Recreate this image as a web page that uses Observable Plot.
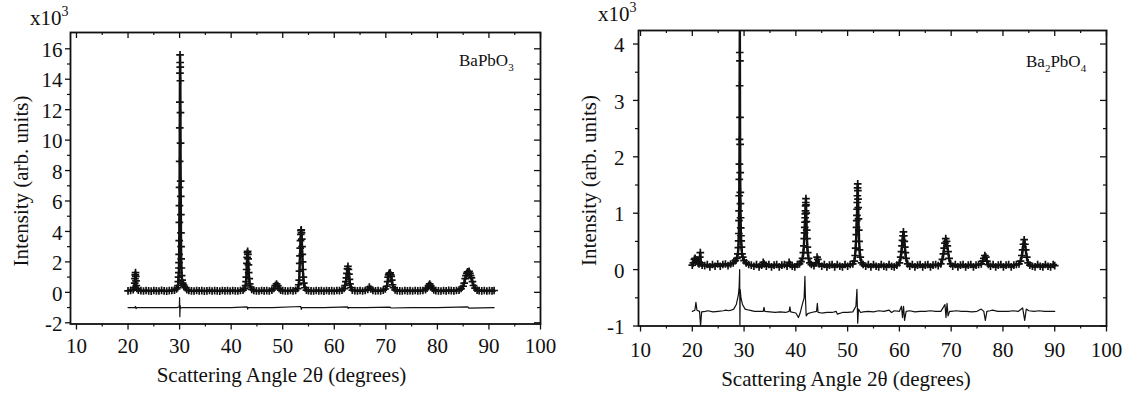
<!DOCTYPE html>
<html>
<head>
<meta charset="utf-8">
<script src="https://cdn.jsdelivr.net/npm/d3@7"></script>
<script src="https://cdn.jsdelivr.net/npm/@observablehq/plot@0.6"></script>
<style>
  html, body { margin: 0; padding: 0; background: #fff; }
  #wrap { position: relative; width: 1127px; height: 394px; background: #fff; overflow: hidden; }
  .panel { position: absolute; top: 0; }
  #overlay { position: absolute; left: 0; top: 0; pointer-events: none; }
</style>
</head>
<body>
<div id="wrap">
  <div id="p1" class="panel" style="left:0px"></div>
  <div id="p2" class="panel" style="left:560px"></div>
</div>
<script>
// ---------- DATA ----------
// Panel A: BaPbO3 observed intensities (x10^3) vs 2θ
const obsA = [
  [20.0,.10],[20.5,.13],[21.0,.18],[21.2,.3],[21.3,.6],[21.35,.9],[21.4,1.15],[21.45,1.3],[21.5,1.05],[21.55,.75],[21.6,.45],[21.7,.25],
  [22.0,.14],[22.5,.11],[23.0,.09],[23.5,.12],[24.0,.10],[24.5,.08],[25.0,.12],[25.5,.10],[26.0,.09],[26.5,.13],[27.0,.10],[27.5,.08],
  [28.0,.11],[28.5,.12],[29.0,.15],[29.4,.22],[29.6,.3],[29.7,.45],[29.75,.7],[29.8,1.0],[29.85,1.3],[29.87,1.6],[29.89,1.95],[29.91,2.5],
  [29.93,3.4],[29.95,4.6],[29.97,5.7],[29.99,6.9],[30.01,8.6],[30.03,10.8],[30.05,12.5],[30.07,14.4],[30.09,15.6],[30.11,15.1],[30.13,14.8],
  [30.15,13.9],[30.17,11.8],[30.19,9.8],[30.21,7.3],[30.23,6.3],[30.25,5.1],[30.27,3.9],[30.29,3.0],[30.31,2.2],[30.35,1.6],[30.4,1.1],
  [30.5,.8],[30.6,.6],[30.75,.5],[30.9,.4],[31.1,.3],[31.4,.18],[31.8,.12],[32.3,.10],[32.8,.09],[33.3,.12],[33.8,.10],[34.3,.11],
  [34.8,.08],[35.3,.10],[35.8,.12],[36.3,.09],[36.8,.11],[37.3,.10],[37.8,.08],[38.3,.12],[38.8,.10],[39.3,.11],[39.8,.09],[40.3,.12],
  [40.8,.10],[41.3,.09],[41.8,.12],[42.3,.15],[42.6,.25],[42.8,.45],[42.9,.7],[42.95,1.0],[43.0,1.5],[43.05,1.9],[43.1,2.3],[43.15,2.6],
  [43.2,2.7],[43.25,2.5],[43.3,2.2],[43.35,1.8],[43.4,1.3],[43.5,.9],[43.6,.55],[43.75,.35],[44.0,.2],[44.4,.12],[44.9,.10],[45.4,.09],
  [45.9,.12],[46.4,.10],[46.9,.11],[47.4,.09],[47.9,.14],[48.3,.25],[48.55,.45],[48.8,.55],[49.05,.45],[49.3,.25],[49.6,.14],[50.0,.11],
  [50.5,.10],[51.0,.09],[51.5,.12],[52.0,.10],[52.5,.13],[52.9,.25],[53.1,.5],[53.2,.8],[53.25,1.4],[53.3,1.9],[53.35,2.4],[53.4,2.9],
  [53.45,3.4],[53.5,3.8],[53.55,4.05],[53.6,4.1],[53.65,3.9],[53.7,3.5],[53.75,3.0],[53.8,2.5],[53.85,2.0],[53.9,1.5],[54.0,1.0],[54.1,.6],
  [54.3,.3],[54.6,.15],[55.0,.11],[55.5,.10],[56.0,.09],[56.5,.12],[57.0,.10],[57.5,.11],[58.0,.08],[58.5,.12],[59.0,.10],[59.5,.11],
  [60.0,.09],[60.5,.12],[61.0,.11],[61.5,.15],[61.9,.25],[62.1,.45],[62.25,.7],[62.35,.95],[62.45,1.25],[62.55,1.55],[62.65,1.7],[62.75,1.5],
  [62.85,1.2],[62.95,.85],[63.05,.55],[63.25,.3],[63.5,.15],[64.0,.11],[64.5,.10],[65.0,.12],[65.5,.09],[66.0,.12],[66.5,.2],[66.8,.35],
  [67.1,.22],[67.5,.12],[68.0,.10],[68.5,.11],[69.0,.09],[69.5,.14],[69.9,.22],[70.2,.4],[70.35,.7],[70.45,1.0],[70.55,1.15],[70.65,1.25],
  [70.75,1.2],[70.85,1.28],[70.95,1.15],[71.05,1.05],[71.15,.8],[71.3,.5],[71.5,.3],[71.8,.16],[72.2,.11],[72.7,.10],[73.2,.09],[73.7,.12],
  [74.2,.10],[74.7,.11],[75.2,.09],[75.7,.12],[76.2,.10],[76.7,.11],[77.2,.12],[77.7,.18],[78.0,.28],[78.3,.45],[78.5,.55],[78.7,.45],
  [79.0,.28],[79.3,.16],[79.7,.11],[80.2,.10],[80.7,.09],[81.2,.12],[81.7,.10],[82.2,.13],[82.7,.11],[83.2,.10],[83.7,.12],[84.2,.15],
  [84.6,.25],[85.0,.4],[85.2,.6],[85.4,.9],[85.55,1.1],[85.7,1.25],[85.85,1.35],[86.0,1.3],[86.15,1.38],[86.3,1.25],[86.45,1.1],[86.6,.95],
  [86.8,.7],[87.0,.45],[87.3,.28],[87.7,.15],[88.1,.11],[88.6,.10],[89.1,.12],[89.6,.09],[90.1,.11],[90.6,.10],[91.0,.12]
];
// Panel A: difference curve
const diffA = [
  [20,-1.0],[21.3,-1.0],[21.45,-0.93],[21.55,-1.07],[21.7,-1.0],[25,-1.01],[29.5,-1.0],[29.95,-0.95],[30.0,-0.35],[30.05,-1.6],
  [30.1,-0.85],[30.2,-1.05],[30.5,-1.0],[35,-1.0],[40,-1.01],[43.1,-0.95],[43.2,-1.1],[43.3,-1.0],[48,-1.0],[53.5,-0.93],
  [53.6,-1.12],[53.7,-1.0],[58,-1.0],[62.6,-0.96],[62.7,-1.06],[62.8,-1.0],[66,-1.0],[70.8,-0.97],[71.0,-1.03],[75,-1.0],
  [80,-1.0],[85.9,-0.96],[86.1,-1.04],[91,-1.0]
];
// Panel B: Ba2PbO4 observed intensities (x10^3)
const obsB = [
  [20.0,.08],[20.2,.12],[20.4,.18],[20.55,.2],[20.7,.15],[20.9,.17],[21.1,.12],[21.3,.1],[21.45,.22],[21.55,.3],[21.65,.12],[21.9,.08],
  [22.4,.07],[22.9,.09],[23.4,.05],[23.9,.09],[24.4,.06],[24.9,.10],[25.4,.06],[25.9,.09],[26.4,.10],[26.9,.07],[27.4,.1],[27.9,.12],
  [28.3,.16],[28.6,.2],[28.8,.28],[28.9,.39],[28.95,.51],[29.0,.64],[29.02,.87],[29.04,1.04],[29.06,1.31],[29.08,1.6],[29.1,1.87],
  [29.12,2.31],[29.14,3.26],[29.16,3.85],[29.18,4.4],[29.2,3.7],[29.22,2.7],[29.24,2.22],[29.26,1.72],[29.28,1.37],[29.3,1.17],
  [29.33,.92],[29.36,.74],[29.4,.6],[29.45,.51],[29.5,.4],[29.6,.28],[29.75,.22],[30.0,.16],[30.4,.12],[30.9,.09],[31.4,.08],[31.9,.06],
  [32.4,.09],[32.9,.05],[33.4,.08],[33.7,.13],[33.9,.1],[34.3,.06],[34.8,.09],[35.3,.05],[35.8,.08],[36.3,.09],[36.8,.05],[37.3,.08],
  [37.8,.09],[38.3,.06],[38.7,.13],[38.9,.09],[39.3,.06],[39.8,.05],[40.3,.09],[40.7,.1],[41.0,.14],[41.3,.2],[41.45,.3],[41.55,.42],
  [41.62,.55],[41.68,.65],[41.72,.75],[41.76,.84],[41.8,.92],[41.83,.99],[41.86,1.04],[41.89,1.13],[41.92,1.19],[41.95,1.26],[41.98,1.15],
  [42.01,1.0],[42.05,.85],[42.1,.7],[42.15,.55],[42.22,.4],[42.3,.3],[42.45,.2],[42.7,.12],[43.0,.09],[43.5,.07],[43.9,.12],[44.1,.22],
  [44.25,.18],[44.5,.1],[45.0,.06],[45.5,.09],[46.0,.05],[46.5,.08],[47.0,.09],[47.5,.05],[48.0,.09],[48.5,.06],[49.0,.05],[49.5,.09],
  [50.0,.06],[50.5,.09],[51.0,.1],[51.3,.15],[51.45,.25],[51.55,.38],[51.62,.5],[51.68,.62],[51.72,.75],[51.76,.87],[51.8,.96],[51.83,1.07],
  [51.86,1.19],[51.89,1.31],[51.92,1.45],[51.95,1.52],[51.98,1.4],[52.01,1.25],[52.05,1.1],[52.1,.9],[52.15,.7],[52.22,.5],[52.3,.35],
  [52.45,.22],[52.7,.12],[53.0,.09],[53.5,.06],[54.0,.09],[54.5,.05],[55.0,.09],[55.5,.06],[56.0,.05],[56.5,.09],[57.0,.06],[57.5,.05],
  [58.0,.09],[58.5,.06],[59.0,.05],[59.5,.08],[60.0,.12],[60.25,.22],[60.4,.32],[60.5,.42],[60.6,.52],[60.7,.6],[60.78,.67],[60.86,.6],
  [60.95,.5],[61.05,.4],[61.15,.3],[61.3,.2],[61.6,.1],[62.0,.06],[62.5,.09],[63.0,.05],[63.5,.08],[64.0,.09],[64.5,.05],[65.0,.08],
  [65.5,.09],[66.0,.05],[66.5,.08],[67.0,.09],[67.5,.07],[68.0,.1],[68.3,.18],[68.5,.28],[68.65,.38],[68.8,.47],[68.95,.55],[69.1,.5],
  [69.25,.42],[69.4,.32],[69.6,.2],[69.9,.1],[70.3,.06],[70.8,.09],[71.3,.05],[71.8,.08],[72.3,.09],[72.8,.05],[73.3,.08],[73.8,.09],
  [74.3,.05],[74.8,.08],[75.3,.09],[75.8,.1],[76.1,.15],[76.3,.2],[76.5,.25],[76.7,.22],[76.9,.15],[77.2,.09],[77.6,.06],[78.1,.09],
  [78.6,.05],[79.1,.08],[79.6,.09],[80.1,.05],[80.6,.08],[81.1,.09],[81.6,.05],[82.1,.08],[82.6,.09],[83.1,.1],[83.4,.15],[83.65,.25],
  [83.8,.35],[83.95,.45],[84.1,.53],[84.25,.45],[84.4,.35],[84.6,.22],[84.85,.12],[85.2,.08],[85.7,.06],[86.2,.05],[86.7,.09],[87.2,.06],
  [87.7,.05],[88.2,.09],[88.7,.06],[89.2,.05],[89.7,.09],[90.0,.07]
];
// Panel B: difference curve
const diffB = [
  [20,-.74],[20.5,-.72],[20.7,-.58],[20.9,-.72],[21.4,-.74],[21.6,-1.0],[21.8,-.75],[22.5,-.74],[23,-.73],[24,-.75],[25,-.74],[26,-.73],
  [26.5,-.72],[27,-.73],[27.5,-.72],[28,-.70],[28.5,-.62],[28.9,-.45],[29.05,-.3],[29.15,0.0],[29.2,-1.0],[29.25,-.35],[29.4,-.5],
  [29.7,-.62],[30.2,-.7],[31,-.72],[32,-.74],[33,-.74],[33.7,-.74],[33.85,-.67],[34,-.74],[35,-.75],[36,-.76],[37,-.75],[38,-.76],
  [38.7,-.74],[38.85,-.66],[39.0,-.75],[40,-.77],[40.5,-.85],[40.8,-.78],[41.3,-.6],[41.6,-.5],[41.75,-.12],[41.85,-.5],[42.0,-.82],
  [42.3,-.78],[43,-.76],[44,-.74],[44.15,-.6],[44.3,-.76],[45,-.77],[46,-.76],[47,-.76],[47.8,-.74],[48,-.79],[49,-.76],[50,-.76],
  [51,-.75],[51.6,-.65],[51.8,-.35],[51.95,-.95],[52.1,-.7],[52.5,-.76],[53,-.75],[54,-.74],[55,-.75],[56,-.73],[57,-.74],[58,-.72],
  [58.5,-.76],[59,-.73],[60,-.74],[60.4,-.65],[60.6,-.85],[60.8,-.65],[61.0,-.9],[61.3,-.74],[62,-.73],[63,-.75],[64,-.74],[65,-.74],
  [66,-.73],[67,-.74],[68,-.74],[68.8,-.62],[69.0,-.85],[69.2,-.6],[69.4,-.82],[69.7,-.74],[70,-.74],[71,-.73],[72,-.74],[73,-.74],
  [74,-.75],[75,-.74],[75.8,-.70],[76.3,-.74],[76.6,-.9],[76.9,-.74],[77.5,-.73],[78,-.72],[79,-.74],[80,-.74],[81,-.74],[82,-.73],
  [83,-.74],[83.8,-.68],[84.2,-.9],[84.5,-.7],[85,-.73],[86,-.74],[87,-.73],[88,-.74],[89,-.74],[90,-.74]
];
// Ticks
const xMajor = [10,20,30,40,50,60,70,80,90,100];
const xMinor = [15,25,35,45,55,65,75,85,95];
const yMajorA = [-2,0,2,4,6,8,10,12,14,16];
const yMinorA = [-1,1,3,5,7,9,11,13,15];
const yMajorB = [-1,0,1,2,3,4];
const yMinorB = [-0.5,0.5,1.5,2.5,3.5];
const xTitle = "Scattering Angle 2θ (degrees)";
const yTitle = "Intensity (arb. units)";

// ---------- DRAW ----------
const FONT = "'Liberation Serif', 'Times New Roman', 'DejaVu Serif', serif";
const fmt = d => String(d);

function panel(o) {
  const H = 394;
  const fh = H - o.mt - o.mb, fw = o.w - o.ml - o.mr;
  return Plot.plot({
    width: o.w, height: H,
    marginLeft: o.ml, marginRight: o.mr, marginTop: o.mt, marginBottom: o.mb,
    x: {domain: o.xd}, y: {domain: o.yd},
    style: {fontFamily: FONT, fontSize: "21px", color: "#111", background: "transparent", overflow: "visible"},
    marks: [
      Plot.line(o.diff, {x: d => d[0], y: d => d[1], stroke: "#111", strokeWidth: 1.2, clip: true}),
      Plot.line(o.obs, {x: d => d[0], y: d => d[1], stroke: "#111", strokeWidth: 2.4, clip: true}),
      Plot.dot(o.obs, {x: d => d[0], y: d => d[1], symbol: "plus", r: 2.6, stroke: "#111", strokeWidth: 1.7, clip: true}),
      // outward ticks (bottom, left)
      Plot.axisX({ticks: xMajor, tickSize: 6, tickFormat: () => "", label: null, strokeWidth: 1.3}),
      Plot.axisX({ticks: xMinor, tickSize: 3, tickFormat: () => "", label: null, strokeWidth: 1.2}),
      Plot.axisY({ticks: o.yMajor, tickSize: 5, tickFormat: () => "", label: null, strokeWidth: 1.3}),
      Plot.axisY({ticks: o.yMinor, tickSize: 3, tickFormat: () => "", label: null, strokeWidth: 1.2}),
      // inward ticks (top, right)
      Plot.tickX(xMajor, {x: d => d, insetBottom: fh - 6, stroke: "#111", strokeWidth: 1.3}),
      Plot.tickX(xMinor, {x: d => d, insetBottom: fh - 3, stroke: "#111", strokeWidth: 1.2}),
      Plot.tickY(o.yMajor, {y: d => d, insetLeft: fw - 6, stroke: "#111", strokeWidth: 1.3}),
      Plot.tickY(o.yMinor, {y: d => d, insetLeft: fw - 3, stroke: "#111", strokeWidth: 1.2}),
      // tick labels
      Plot.text(xMajor, {x: d => d, text: fmt, frameAnchor: "bottom", lineAnchor: "bottom", dy: o.xlabDy, fill: "#111", fontSize: 21}),
      Plot.text(o.yMajor, {y: d => d, text: fmt, frameAnchor: "left", textAnchor: "end", lineAnchor: "middle", dx: o.ylabDx, dy: 1.5, fill: "#111", fontSize: 21}),
      Plot.frame({stroke: "#111", strokeWidth: 1.8})
    ]
  });
}

document.getElementById("p1").appendChild(panel({
  w: 560, ml: 70, mr: 20, mt: 32, mb: 70.5,
  xd: [8.84, 100], yd: [-2.08, 17.07],
  yMajor: yMajorA, yMinor: yMinorA,
  obs: obsA, diff: diffA, xlabDy: 28.5, ylabDx: -8
}));
document.getElementById("p2").appendChild(panel({
  w: 567, ml: 78, mr: 21, mt: 30, mb: 68.5,
  xd: [9.61, 100], yd: [-1.0, 4.24],
  yMajor: yMajorB, yMinor: yMinorB,
  obs: obsB, diff: diffB, xlabDy: 30.5, ylabDx: -14
}));

// ---------- TEXT OVERLAY ----------
const svg = d3.select("#wrap").append("svg").attr("id", "overlay")
  .attr("width", 1127).attr("height", 394)
  .style("font-family", FONT).style("fill", "#111");

function sci(x, y) {
  const t = svg.append("text").attr("x", x).attr("y", y).attr("font-size", 21);
  t.append("tspan").text("x10");
  t.append("tspan").attr("font-size", 14).attr("dy", -9).text("3");
}
sci(30, 24.5);
sci(598, 20.5);

function formula(x, y, parts) {
  const t = svg.append("text").attr("x", x).attr("y", y).attr("font-size", 17);
  let shifted = false;
  for (const [s, sub] of parts) {
    const sp = t.append("tspan").text(s);
    if (sub && !shifted) { sp.attr("font-size", 11).attr("dy", 5); shifted = true; }
    else if (!sub && shifted) { sp.attr("dy", -5); shifted = false; }
  }
}
formula(459, 66, [["BaPbO", false], ["3", true]]);
formula(1026, 67, [["Ba", false], ["2", true], ["PbO", false], ["4", true]]);

function ylab(x, y) {
  svg.append("text").attr("transform", `translate(${x},${y}) rotate(-90)`)
    .attr("text-anchor", "middle").attr("font-size", 21).text(yTitle);
}
ylab(27.5, 181);
ylab(595.5, 180.5);

function xlab(x, y) {
  svg.append("text").attr("x", x).attr("y", y).attr("text-anchor", "middle")
    .attr("font-size", 21).text(xTitle);
}
xlab(281.5, 382);
xlab(846, 386);
</script>
</body>
</html>
